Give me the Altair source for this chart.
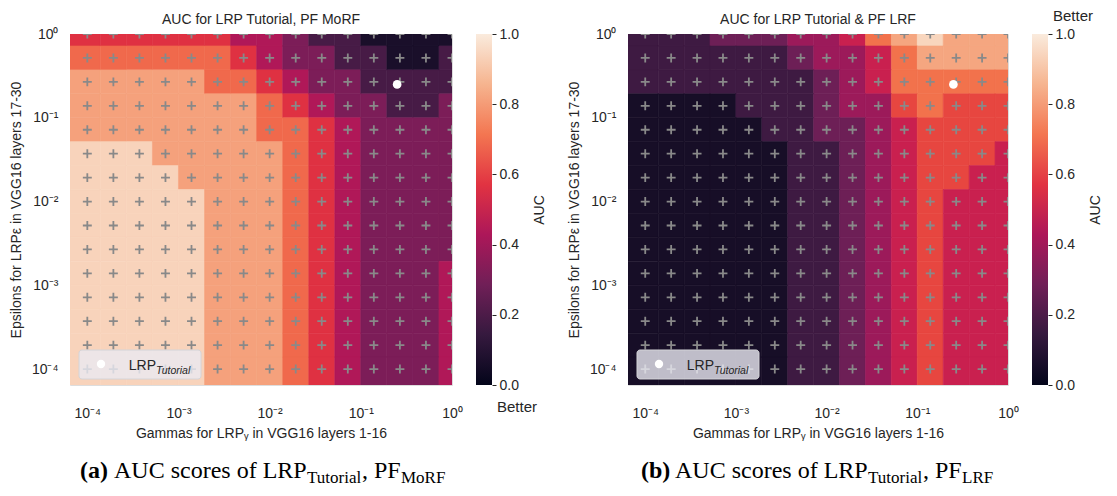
import altair as alt
import pandas as pd

# ---------------- data ----------------
GAMMAS = [1e-4, 1.931e-4, 3.728e-4, 7.197e-4, 1.389e-3, 2.683e-3, 5.179e-3, 1e-2,
          1.931e-2, 3.728e-2, 7.197e-2, 1.389e-1, 2.683e-1, 5.179e-1, 1.0]
EPSILONS = [1e-4, 1.931e-4, 3.728e-4, 7.197e-4, 1.389e-3, 2.683e-3, 5.179e-3, 1e-2,
            1.931e-2, 3.728e-2, 7.197e-2, 1.389e-1, 2.683e-1, 5.179e-1, 1.0]

# rows from epsilon = 1 (top) down to epsilon = 1e-4 (bottom), columns gamma 1e-4 .. 1
AUC_MORF = [
    [0.60, 0.60, 0.59, 0.59, 0.58, 0.54, 0.47, 0.39, 0.30, 0.21, 0.15, 0.10, 0.07, 0.06, 0.08],
    [0.72, 0.72, 0.71, 0.71, 0.70, 0.66, 0.60, 0.48, 0.37, 0.27, 0.22, 0.16, 0.11, 0.12, 0.14],
    [0.80, 0.80, 0.80, 0.79, 0.77, 0.73, 0.68, 0.62, 0.49, 0.37, 0.29, 0.22, 0.19, 0.20, 0.23],
    [0.85, 0.85, 0.84, 0.84, 0.83, 0.81, 0.77, 0.69, 0.56, 0.43, 0.33, 0.27, 0.24, 0.24, 0.26],
    [0.87, 0.87, 0.86, 0.86, 0.85, 0.83, 0.79, 0.74, 0.65, 0.52, 0.39, 0.30, 0.28, 0.28, 0.29],
    [0.88, 0.88, 0.88, 0.87, 0.86, 0.84, 0.81, 0.76, 0.68, 0.56, 0.42, 0.32, 0.30, 0.30, 0.31],
    [0.90, 0.90, 0.90, 0.89, 0.86, 0.84, 0.82, 0.77, 0.69, 0.57, 0.44, 0.33, 0.31, 0.31, 0.32],
    [0.92, 0.92, 0.91, 0.90, 0.88, 0.85, 0.83, 0.78, 0.70, 0.58, 0.45, 0.34, 0.31, 0.32, 0.34],
    [0.93, 0.93, 0.92, 0.91, 0.89, 0.86, 0.83, 0.78, 0.70, 0.58, 0.45, 0.34, 0.32, 0.33, 0.35],
    [0.93, 0.93, 0.93, 0.92, 0.89, 0.86, 0.83, 0.79, 0.70, 0.59, 0.46, 0.35, 0.32, 0.33, 0.36],
    [0.94, 0.94, 0.93, 0.92, 0.90, 0.86, 0.84, 0.79, 0.71, 0.59, 0.46, 0.35, 0.33, 0.34, 0.39],
    [0.94, 0.94, 0.93, 0.92, 0.90, 0.87, 0.84, 0.79, 0.71, 0.59, 0.46, 0.35, 0.33, 0.34, 0.40],
    [0.94, 0.94, 0.94, 0.93, 0.90, 0.87, 0.84, 0.79, 0.71, 0.59, 0.46, 0.35, 0.33, 0.35, 0.41],
    [0.95, 0.95, 0.94, 0.93, 0.90, 0.87, 0.84, 0.80, 0.71, 0.60, 0.47, 0.35, 0.34, 0.36, 0.42],
    [0.95, 0.95, 0.94, 0.93, 0.90, 0.87, 0.84, 0.80, 0.71, 0.60, 0.47, 0.36, 0.34, 0.37, 0.43],
]
AUC_LRF = [
    [0.21, 0.21, 0.22, 0.23, 0.25, 0.30, 0.37, 0.42, 0.50, 0.73, 0.86, 0.91, 0.87, 0.85, 0.84],
    [0.17, 0.17, 0.17, 0.18, 0.19, 0.21, 0.27, 0.35, 0.43, 0.52, 0.75, 0.80, 0.83, 0.81, 0.79],
    [0.13, 0.13, 0.13, 0.14, 0.15, 0.17, 0.21, 0.29, 0.40, 0.50, 0.69, 0.74, 0.76, 0.75, 0.73],
    [0.09, 0.09, 0.10, 0.11, 0.12, 0.15, 0.19, 0.26, 0.35, 0.44, 0.60, 0.68, 0.65, 0.63, 0.62],
    [0.07, 0.07, 0.07, 0.08, 0.10, 0.12, 0.17, 0.24, 0.33, 0.41, 0.53, 0.63, 0.62, 0.60, 0.58],
    [0.06, 0.06, 0.06, 0.07, 0.08, 0.10, 0.15, 0.22, 0.30, 0.40, 0.51, 0.62, 0.60, 0.57, 0.55],
    [0.05, 0.05, 0.05, 0.06, 0.07, 0.09, 0.14, 0.21, 0.29, 0.39, 0.50, 0.61, 0.57, 0.53, 0.52],
    [0.05, 0.05, 0.05, 0.05, 0.06, 0.09, 0.14, 0.20, 0.29, 0.39, 0.50, 0.60, 0.55, 0.52, 0.51],
    [0.04, 0.04, 0.05, 0.05, 0.06, 0.08, 0.13, 0.20, 0.28, 0.38, 0.49, 0.60, 0.54, 0.51, 0.51],
    [0.04, 0.04, 0.04, 0.05, 0.06, 0.08, 0.13, 0.19, 0.28, 0.38, 0.49, 0.60, 0.54, 0.51, 0.50],
    [0.04, 0.04, 0.04, 0.05, 0.06, 0.08, 0.13, 0.19, 0.28, 0.38, 0.49, 0.59, 0.53, 0.51, 0.50],
    [0.04, 0.04, 0.04, 0.04, 0.05, 0.08, 0.13, 0.19, 0.28, 0.38, 0.49, 0.59, 0.53, 0.50, 0.50],
    [0.03, 0.03, 0.04, 0.04, 0.05, 0.08, 0.12, 0.19, 0.28, 0.38, 0.49, 0.59, 0.53, 0.50, 0.50],
    [0.03, 0.03, 0.04, 0.04, 0.05, 0.07, 0.12, 0.18, 0.27, 0.38, 0.49, 0.59, 0.53, 0.50, 0.49],
    [0.03, 0.03, 0.03, 0.04, 0.05, 0.07, 0.12, 0.18, 0.27, 0.37, 0.48, 0.59, 0.53, 0.50, 0.49],
]

LEVELS_MORF = [0.125, 0.25, 0.375, 0.5, 0.625, 0.75, 0.875]
COLORS_MORF = ["#1a0f2a", "#471b46", "#7c1d58", "#b01858", "#df3142", "#f0694c", "#f5a17c", "#f8d3bb"]
LEVELS_LRF = [0.1111, 0.2222, 0.3333, 0.4444, 0.5556, 0.6667, 0.7778, 0.8889]
COLORS_LRF = ["#170e27", "#3e1a42", "#6d1f56", "#9c1a5a", "#c9204f", "#e74640", "#f2724c", "#f5a680", "#f8d6be"]

CBAR_STOPS = [(0.0, "#03051a"), (0.143, "#35193e"), (0.286, "#701f57"), (0.429, "#ad1759"),
              (0.571, "#e13342"), (0.714, "#f37651"), (0.857, "#f6b48f"), (1.0, "#faebdd")]

LOG_TICKS = [1e-4, 1e-3, 1e-2, 1e-1, 1.0]
CBAR_TICKS = [0.0, 0.2, 0.4, 0.6, 0.8, 1.0]
TUTORIAL_GAMMA = [0.25]
TUTORIAL_EPS = [0.25]

FONT = "Liberation Sans"
SERIF = "Liberation Serif"
TXT = "#262626"
H = 351
DOMAIN = [10 ** -4.19, 1.0]
LABEL_EXPR = ("datum.value > 0.5 ? '10⁰' : datum.value > 0.05 ? '10⁻¹' : "
              "datum.value > 0.005 ? '10⁻²' : datum.value > 0.0005 ? '10⁻³' : '10⁻⁴'")


def grid_df(rows):
    rec = []
    n = len(EPSILONS)
    for r, row in enumerate(rows):
        eps = EPSILONS[n - 1 - r]
        for i, v in enumerate(row):
            rec.append({"gamma": GAMMAS[i], "eps": eps, "auc": v})
    return pd.DataFrame(rec)


def panel(rows, levels, colors, title, W, better_top, caption):
    df = grid_df(rows)
    xs = alt.Scale(type="log", domain=DOMAIN, nice=False)
    ys = alt.Scale(type="log", domain=DOMAIN, nice=False)
    cscale = alt.Scale(type="threshold", domain=levels, range=colors)

    heat = alt.Chart(df).transform_calculate(
        x1="datum.gamma < 1.2e-4 ? 1e-5 : datum.gamma / 1.3895",
        x2="datum.gamma * 1.3895",
        y1="datum.eps < 1.2e-4 ? 1e-5 : datum.eps / 1.3895",
        y2="datum.eps * 1.3895",
    ).mark_rect(clip=True, strokeWidth=0.6).encode(
        x=alt.X("x1:Q", scale=xs, axis=alt.Axis(
            values=LOG_TICKS, labelExpr=LABEL_EXPR, grid=False, ticks=False, domain=False,
            labelFont=FONT, labelFontSize=14, labelColor=TXT, labelPadding=21, labelFlush=False,
            title="Gammas for LRPᵧ in VGG16 layers 1-16", titleFont=FONT, titleFontSize=14,
            titleFontWeight="normal", titleColor=TXT, titlePadding=6)),
        x2="x2:Q",
        y=alt.Y("y1:Q", scale=ys, axis=alt.Axis(
            values=LOG_TICKS, labelExpr=LABEL_EXPR, grid=False, ticks=False, domain=False,
            labelFont=FONT, labelFontSize=14, labelColor=TXT, labelPadding=12, labelFlush=False,
            labelOverlap=False,
            title="Epsilons for LRPε in VGG16 layers 17-30", titleFont=FONT, titleFontSize=14,
            titleFontWeight="normal", titleColor=TXT, titlePadding=8)),
        y2="y2:Q",
        color=alt.Color("auc:Q", scale=cscale, legend=None),
        stroke=alt.Stroke("auc:Q", scale=cscale, legend=None),
    )

    crosses = alt.Chart(df).mark_point(
        shape="M-1,0H1M0,-1V1", size=80, stroke="#898989", strokeWidth=1.8,
        filled=False, opacity=1, clip=True,
    ).encode(x=alt.X("gamma:Q", scale=xs), y=alt.Y("eps:Q", scale=ys))

    tut = pd.DataFrame({"gamma": TUTORIAL_GAMMA, "eps": TUTORIAL_EPS})
    dot = alt.Chart(tut).mark_circle(size=75, color="white", opacity=1).encode(
        x=alt.X("gamma:Q", scale=xs), y=alt.Y("eps:Q", scale=ys))

    one = pd.DataFrame({"k": [0]})
    legbox = alt.Chart(one).mark_rect(
        fill="#eaeaf2", fillOpacity=0.8, stroke="#d4d4d8", strokeWidth=1, cornerRadius=3
    ).encode(x=alt.value(9), x2=alt.value(131), y=alt.value(316), y2=alt.value(345))
    legdot = alt.Chart(one).mark_circle(size=70, color="white", opacity=1).encode(
        x=alt.value(31), y=alt.value(330))
    legt1 = alt.Chart(one).mark_text(
        text="LRP", font=FONT, fontSize=14, color=TXT, align="right", baseline="alphabetic"
    ).encode(x=alt.value(86), y=alt.value(336))
    legt2 = alt.Chart(one).mark_text(
        text="Tutorial", font=FONT, fontSize=10.5, fontStyle="italic", color=TXT,
        align="left", baseline="alphabetic"
    ).encode(x=alt.value(86), y=alt.value(340))

    inner = alt.layer(heat, crosses, dot, legbox, legdot, legt1, legt2)

    cb = pd.DataFrame({"lo": [0.0], "hi": [1.0]})
    grad = alt.Gradient(gradient="linear",
                        stops=[alt.GradientStop(offset=o, color=c) for o, c in CBAR_STOPS],
                        x1=0, x2=0, y1=1, y2=0)
    cbar = alt.Chart(cb).mark_rect(fill=grad).encode(
        x=alt.value(W + 24), x2=alt.value(W + 40),
        y=alt.Y("lo:Q", scale=alt.Scale(domain=[0, 1], nice=False), axis=alt.Axis(
            orient="right", offset=40, values=CBAR_TICKS, format=".1f", grid=False,
            domain=False, ticks=True, tickSize=4, tickColor=TXT, tickWidth=1,
            labelFont=FONT, labelFontSize=14, labelColor=TXT, labelPadding=3,
            title="AUC", titleFont=FONT, titleFontSize=14, titleFontWeight="normal",
            titleColor=TXT, titleAngle=270, titlePadding=28)),
        y2="hi:Q",
    )
    better = alt.Chart(one).mark_text(
        text="Better", font=FONT, fontSize=15, color=TXT, align="left", baseline="middle"
    ).encode(x=alt.value(W + 45), y=alt.value(-18 if better_top else H + 22))

    ttl = alt.Chart(one).mark_text(
        text=title, font=FONT, fontSize=14, color=TXT, align="center", baseline="middle"
    ).encode(x=alt.value(W / 2), y=alt.value(-14))

    caps = []
    for txt, x, dy, size, weight in caption:
        caps.append(alt.Chart(one).mark_text(
            text=txt, font=SERIF, fontSize=size, fontWeight=weight, color="#000000",
            align="left", baseline="alphabetic"
        ).encode(x=alt.value(x), y=alt.value(H + 93 + dy)))

    return alt.layer(inner, cbar, better, ttl, *caps).resolve_scale(y="independent").properties(
        width=W, height=H)


CAP_A = [
    ("(a)", 10, 0, 24, "bold"),
    ("AUC scores of LRP", 44, 0, 24, "normal"),
    ("Tutorial", 237, 5, 17, "normal"),
    (", PF", 292, 0, 24, "normal"),
    ("MoRF", 331, 5, 17, "normal"),
]
CAP_B = [
    ("(b)", 13, 0, 24, "bold"),
    ("AUC scores of LRP", 47, 0, 24, "normal"),
    ("Tutorial", 240, 5, 17, "normal"),
    (", PF", 295, 0, 24, "normal"),
    ("LRF", 334, 5, 17, "normal"),
]

pa = panel(AUC_MORF, LEVELS_MORF, COLORS_MORF, "AUC for LRP Tutorial, PF MoRF", 382, False, CAP_A)
pb = panel(AUC_LRF, LEVELS_LRF, COLORS_LRF, "AUC for LRP Tutorial & PF LRF", 380, True, CAP_B)

chart = alt.hconcat(pa, pb, spacing=19).resolve_scale(
    x="independent", y="independent", color="independent", stroke="independent"
).properties(
    padding={"left": 0, "top": 0, "right": 0, "bottom": 0}
).configure_view(stroke=None).configure(background="white")

chart.save("out.html", embed_options={"renderer": "svg", "actions": False})
